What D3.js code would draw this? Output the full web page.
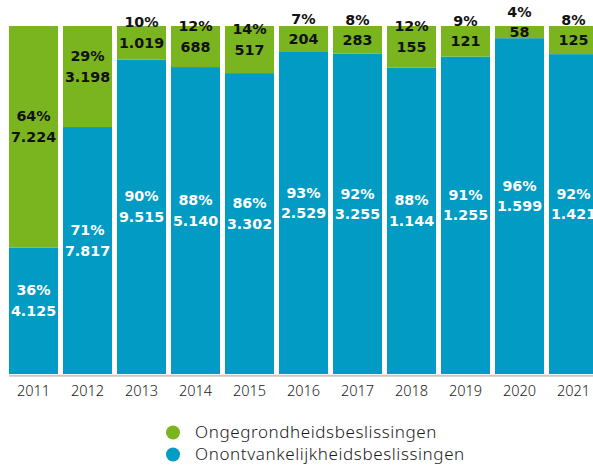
<!DOCTYPE html>
<html>
<head>
<meta charset="utf-8">
<script src="https://cdn.jsdelivr.net/npm/d3@7"></script>
<style>
  body { margin: 0; background: #fff; }
  svg { display: block; }
</style>
</head>
<body>
<div id="chart"></div>
<script>
const years = ['2011','2012','2013','2014','2015','2016','2017','2018','2019','2020','2021']
const ongegrond = [7224, 3198, 1019, 688, 517, 204, 283, 155, 121, 58, 125]
const onontvankelijk = [4125, 7817, 9515, 5140, 3302, 2529, 3255, 1144, 1255, 1599, 1421]
const pctOngegrond = ['64%','29%','10%','12%','14%','7%','8%','12%','9%','4%','8%']
const pctOnontvankelijk = ['36%','71%','90%','88%','86%','93%','92%','88%','91%','96%','92%']
const seriesNames = ['Ongegrondheidsbeslissingen', 'Onontvankelijkheidsbeslissingen']

const W = 593, H = 466
const green = '#7ab41e', blue = '#019bc4'
const nl = d3.formatLocale({decimal: ',', thousands: '.', grouping: [3], currency: ['€', '']})
const fmt = nl.format(',d')

const data = years.map((y, i) => {
  const tot = ongegrond[i] + onontvankelijk[i]
  return {year: y, ong: ongegrond[i], onv: onontvankelijk[i], tot: tot,
    pOng: pctOngegrond[i], pOnv: pctOnontvankelijk[i]}
})

const x = d3.scaleBand().domain(years).range([9, 598]).paddingInner(5 / 54).paddingOuter(0)
const y = d3.scaleLinear().domain([0, 1]).range([374, 26])

const svg = d3.select('#chart').append('svg').attr('width', W).attr('height', H)

// segments: blue at bottom, green on top
const segs = []
data.forEach(d => {
  segs.push({year: d.year, y0: 0, y1: d.onv / d.tot, val: d.onv, pct: d.pOnv, fill: blue, txt: '#fff'})
  segs.push({year: d.year, y0: d.onv / d.tot, y1: 1, val: d.ong, pct: d.pOng, fill: green, txt: '#111'})
})

svg.append('g').selectAll('rect').data(segs).enter().append('rect')
  .attr('x', d => x(d.year))
  .attr('width', x.bandwidth())
  .attr('y', d => y(d.y1))
  .attr('height', d => y(d.y0) - y(d.y1))
  .attr('fill', d => d.fill)

// baseline
svg.append('line').attr('x1', 9).attr('x2', W).attr('y1', 375.7).attr('y2', 375.7)
  .attr('stroke', '#c8c8c8').attr('stroke-width', 2)

const lab = svg.append('g').style('font-family', '"DejaVu Sans", sans-serif')
  .style('font-weight', 'bold').style('font-size', '14.3px').attr('text-anchor', 'middle')
lab.selectAll('text.val').data(segs).enter().append('text').attr('class', 'val')
  .attr('x', d => x(d.year) + x.bandwidth() / 2)
  .attr('y', d => (y(d.y0) + y(d.y1)) / 2)
  .attr('dy', '0.36em')
  .attr('fill', d => d.txt)
  .text(d => fmt(d.val))
lab.selectAll('text.pct').data(segs).enter().append('text').attr('class', 'pct')
  .attr('x', d => x(d.year) + x.bandwidth() / 2)
  .attr('y', d => (y(d.y0) + y(d.y1)) / 2 - 20.5)
  .attr('dy', '0.36em')
  .attr('fill', d => d.txt)
  .text(d => d.pct)

// x axis
const xAxis = d3.axisBottom(x).tickSize(0).tickPadding(10)
const xg = svg.append('g').attr('transform', 'translate(0,376)').call(xAxis)
xg.select('.domain').remove()
xg.selectAll('text').style('font-family', '"Noto Sans", sans-serif').style('font-weight', 300)
  .style('font-size', '14.5px').attr('fill', '#1a1a1a')

// legend
const leg = svg.append('g').attr('transform', 'translate(173,432.5)')
const items = leg.selectAll('g').data(seriesNames).enter().append('g')
  .attr('transform', (d, i) => `translate(0,${i * 22})`)
items.append('circle').attr('r', 7).attr('fill', (d, i) => i === 0 ? green : blue)
items.append('text').attr('x', 22).attr('dy', '0.35em')
  .style('font-family', '"Noto Sans", sans-serif').style('font-weight', 300)
  .style('font-size', '17px').style('letter-spacing', '0.6px').attr('fill', '#1a1a1a')
  .text(d => d)
</script>
</body>
</html>
